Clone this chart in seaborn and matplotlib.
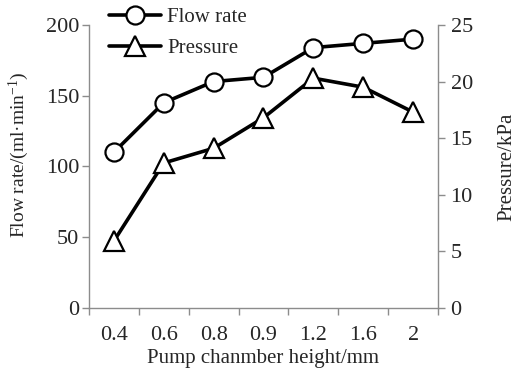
import numpy as np
import pandas as pd
import matplotlib
matplotlib.use('Agg')
import matplotlib.pyplot as plt
import seaborn as sns
from matplotlib.lines import Line2D

# ── Data ─────────────────────────────────────────────────────────────────────
heights   = ['0.4', '0.6', '0.8', '0.9', '1.2', '1.6', '2']
flow_rate = [110, 145, 160, 163, 184, 187, 190]
pressure  = [5.9, 12.8, 14.1, 16.8, 20.3, 19.5, 17.3]

sns.set_style('ticks')
plt.rcParams['font.family'] = ['Liberation Serif', 'DejaVu Serif']
plt.rcParams['mathtext.default'] = 'regular'

df = pd.DataFrame({'pos': np.arange(len(heights)), 'flow': flow_rate, 'pressure': pressure})

fig = plt.figure(figsize=(5.21, 3.72), dpi=100)
ax = fig.add_axes([0.1708, 0.1728, 0.8407 - 0.1708, 0.9328 - 0.1728])
ax2 = ax.twinx()

TFS = 16   # tick labels
LFS = 15   # axis labels / legend
LW = 2.6
GRAY = '#8c8c8c'

sns.lineplot(data=df, x='pos', y='flow', ax=ax, color='black', linewidth=LW,
             marker='o', markersize=13, markerfacecolor='white',
             markeredgecolor='black', markeredgewidth=1.6, legend=False)
sns.lineplot(data=df, x='pos', y='pressure', ax=ax2, color='black', linewidth=LW,
             marker='^', markersize=14, markerfacecolor='white',
             markeredgecolor='black', markeredgewidth=1.6, legend=False)

ax.set_xlim(-0.5, len(heights) - 0.5)
ax.set_ylim(0, 200)
ax2.set_ylim(0, 25)
ax.set_yticks([0, 50, 100, 150, 200])
ax2.set_yticks([0, 5, 10, 15, 20, 25])

ax.set_xticks(np.arange(len(heights)))
ax.set_xticklabels(heights)
ax.set_xticks(np.arange(len(heights) + 1) - 0.5, minor=True)
ax.tick_params(axis='x', which='major', length=0, labelsize=TFS, pad=13)
ax.tick_params(axis='x', which='minor', length=5, color=GRAY, width=1)
ax.tick_params(axis='y', length=5, color=GRAY, width=1, labelsize=TFS, pad=2)
ax2.tick_params(axis='y', length=5, color=GRAY, width=1, labelsize=TFS, pad=4)

for a in (ax, ax2):
    for side in ('left', 'right', 'bottom', 'top'):
        a.spines[side].set_color(GRAY)
        a.spines[side].set_linewidth(1)
    a.spines['top'].set_visible(False)
ax.spines['right'].set_visible(False)
ax2.spines['left'].set_visible(False)
ax2.spines['bottom'].set_visible(False)

ax.set_xlabel('Pump chanmber height/mm', fontsize=LFS, labelpad=3)
ax.set_ylabel('Flow rate/(ml·min$^{-1}$)', fontsize=14)
ax.yaxis.set_label_coords(-0.165, 0.54)
ax2.set_ylabel('Pressure/kPa', fontsize=LFS, labelpad=18)

handles = [
    Line2D([], [], color='black', linewidth=LW, marker='o', markersize=13,
           markerfacecolor='white', markeredgecolor='black', markeredgewidth=1.6),
    Line2D([], [], color='black', linewidth=LW, marker='^', markersize=14,
           markerfacecolor='white', markeredgecolor='black', markeredgewidth=1.6),
]
fig.legend(handles, ['Flow rate', 'Pressure'], loc='upper left',
           bbox_to_anchor=(0.173, 1.03), frameon=False, fontsize=LFS,
           handlelength=2.5, handletextpad=0.3, labelspacing=0.55)

fig.savefig('out.png', dpi=100)
